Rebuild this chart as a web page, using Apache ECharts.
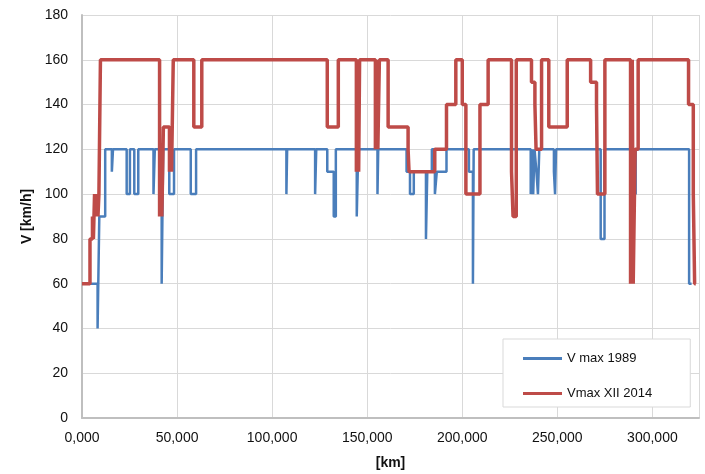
<!DOCTYPE html>
<html>
<head>
<meta charset="utf-8">
<script src="https://cdn.jsdelivr.net/npm/echarts@6/dist/echarts.min.js"></script>
<style>
html,body{margin:0;padding:0;background:#fff;}
#c{width:705px;height:474px;}
</style>
</head>
<body>
<div id="c"></div>
<script>
// Series names
const seriesNames = ['V max 1989', 'Vmax XII 2014'];

// V max 1989: km position where a speed starts, and the speed [km/h]
const blueKm = [0, 8.2, 9.1, 12.2, 15.7, 16.3, 23.5, 25.2, 27.5, 29.6, 37.6, 38.3, 41.9, 42.7, 45.9, 48.4,
  57.2, 60.0, 107.5, 107.9, 122.6, 123.2, 129.0, 132.4, 133.5, 144.5, 145.3, 155.4, 155.8,
  170.7, 172.5, 174.5, 180.9, 181.6, 184.0, 185.6, 186.6, 191.7, 203.5, 205.6, 206.0,
  236.0, 236.7, 237.3, 238.0, 239.0, 239.8, 240.5, 248.2, 248.8, 249.3, 272.8, 274.8,
  290.0, 291.2, 319.3, 320.6];
const blueV = [60, 40, 90, 120, 110, 120, 100, 120, 100, 120, 100, 120, 60, 120, 100, 120,
  100, 120, 100, 120, 100, 120, 110, 90, 120, 90, 120, 100, 120,
  110, 100, 110, 80, 110, 120, 100, 110, 120, 110, 60, 120,
  100, 120, 100, 120, 110, 100, 120, 110, 100, 120, 80, 120,
  100, 120, 60, 60];

// Vmax XII 2014
const redKm = [0, 4.2, 5.5, 6.0, 6.6, 7.2, 7.8, 8.4, 8.9, 9.7, 40.8, 41.5, 42.0, 42.8, 46.0, 46.6, 47.1, 48.0,
  58.8, 63.0, 129.0, 134.8, 144.3, 145.0, 145.5, 146.0, 154.3, 155.0, 155.6, 156.4, 161.0,
  171.5, 172.0, 185.5, 191.7, 196.6, 200.0, 201.9, 209.3, 213.6, 225.9, 226.7, 228.4,
  236.4, 238.2, 238.8, 241.7, 245.5, 255.2, 267.5, 270.6, 271.1, 275.0,
  288.5, 289.4, 289.9, 290.9, 292.5, 319.0, 321.5, 322.2, 322.8];
const redV = [60, 80, 90, 80, 100, 90, 100, 90, 100, 160, 90, 120, 90, 130, 110, 130, 110, 160,
  130, 160, 130, 160, 110, 160, 110, 160, 120, 160, 120, 160, 130,
  120, 110, 120, 140, 160, 140, 100, 140, 160, 110, 90, 160,
  150, 140, 120, 160, 130, 160, 150, 140, 100, 160,
  60, 160, 60, 120, 160, 140, 100, 60, 60];

// Axes
const xMin = 0, xMax = 324.5, xStep = 50;
const yMin = 0, yMax = 180, yStep = 20;

function pairs(xs, ys) { return xs.map((x, i) => [x, ys[i]]); }
function fmtKm(v) { return v.toFixed(3).replace('.', ','); }

const chart = echarts.init(document.getElementById('c'), null, {renderer: 'canvas'});
const font = 'Liberation Sans, Arial, sans-serif';
chart.setOption({
  animation: false,
  backgroundColor: '#fff',
  textStyle: {fontFamily: font},
  grid: {left: 82, right: 6, top: 15, bottom: 56, containLabel: false, outerBoundsMode: 'none'},
  xAxis: {
    type: 'value', min: xMin, max: xMax, interval: xStep,
    name: '[km]', nameLocation: 'middle', nameGap: 38,
    nameTextStyle: {fontSize: 14, fontWeight: 'bold', color: '#111', fontFamily: font},
    axisLine: {show: true, lineStyle: {color: '#bfbfbf', width: 2}},
    axisTick: {show: false},
    axisLabel: {fontSize: 14, color: '#111', margin: 13, fontFamily: font,
      formatter: v => (v % xStep === 0 ? fmtKm(v) : ''), showMaxLabel: false},
    splitLine: {show: true, lineStyle: {color: '#d9d9d9', width: 1}}
  },
  yAxis: {
    type: 'value', min: yMin, max: yMax, interval: yStep,
    name: 'V [km/h]', nameLocation: 'middle', nameGap: 37, nameRotate: 90,
    nameTextStyle: {fontSize: 14, fontWeight: 'bold', color: '#111', fontFamily: font},
    axisLine: {show: true, lineStyle: {color: '#bfbfbf', width: 2}},
    axisTick: {show: false},
    axisLabel: {fontSize: 14, color: '#111', margin: 14, fontFamily: font},
    splitLine: {show: true, lineStyle: {color: '#d9d9d9', width: 1}}
  },
  legend: {
    orient: 'vertical', left: 503, top: 339,
    padding: [13, 38, 7, 20], itemGap: 22, itemWidth: 39, itemHeight: 3,
    icon: 'rect',
    backgroundColor: '#fff', borderColor: '#d9d9d9', borderWidth: 1,
    textStyle: {fontSize: 13, color: '#111', fontFamily: font},
    data: seriesNames
  },
  series: [
    {name: seriesNames[0], type: 'line', step: 'end', symbol: 'none',
     data: pairs(blueKm, blueV), lineStyle: {color: '#4A7EBB', width: 2.5}, itemStyle: {color: '#4A7EBB'}, z: 2},
    {name: seriesNames[1], type: 'line', step: 'end', symbol: 'none',
     data: pairs(redKm, redV), lineStyle: {color: '#BE4B48', width: 3.5}, itemStyle: {color: '#BE4B48'}, z: 3}
  ]
});
</script>
</body>
</html>
